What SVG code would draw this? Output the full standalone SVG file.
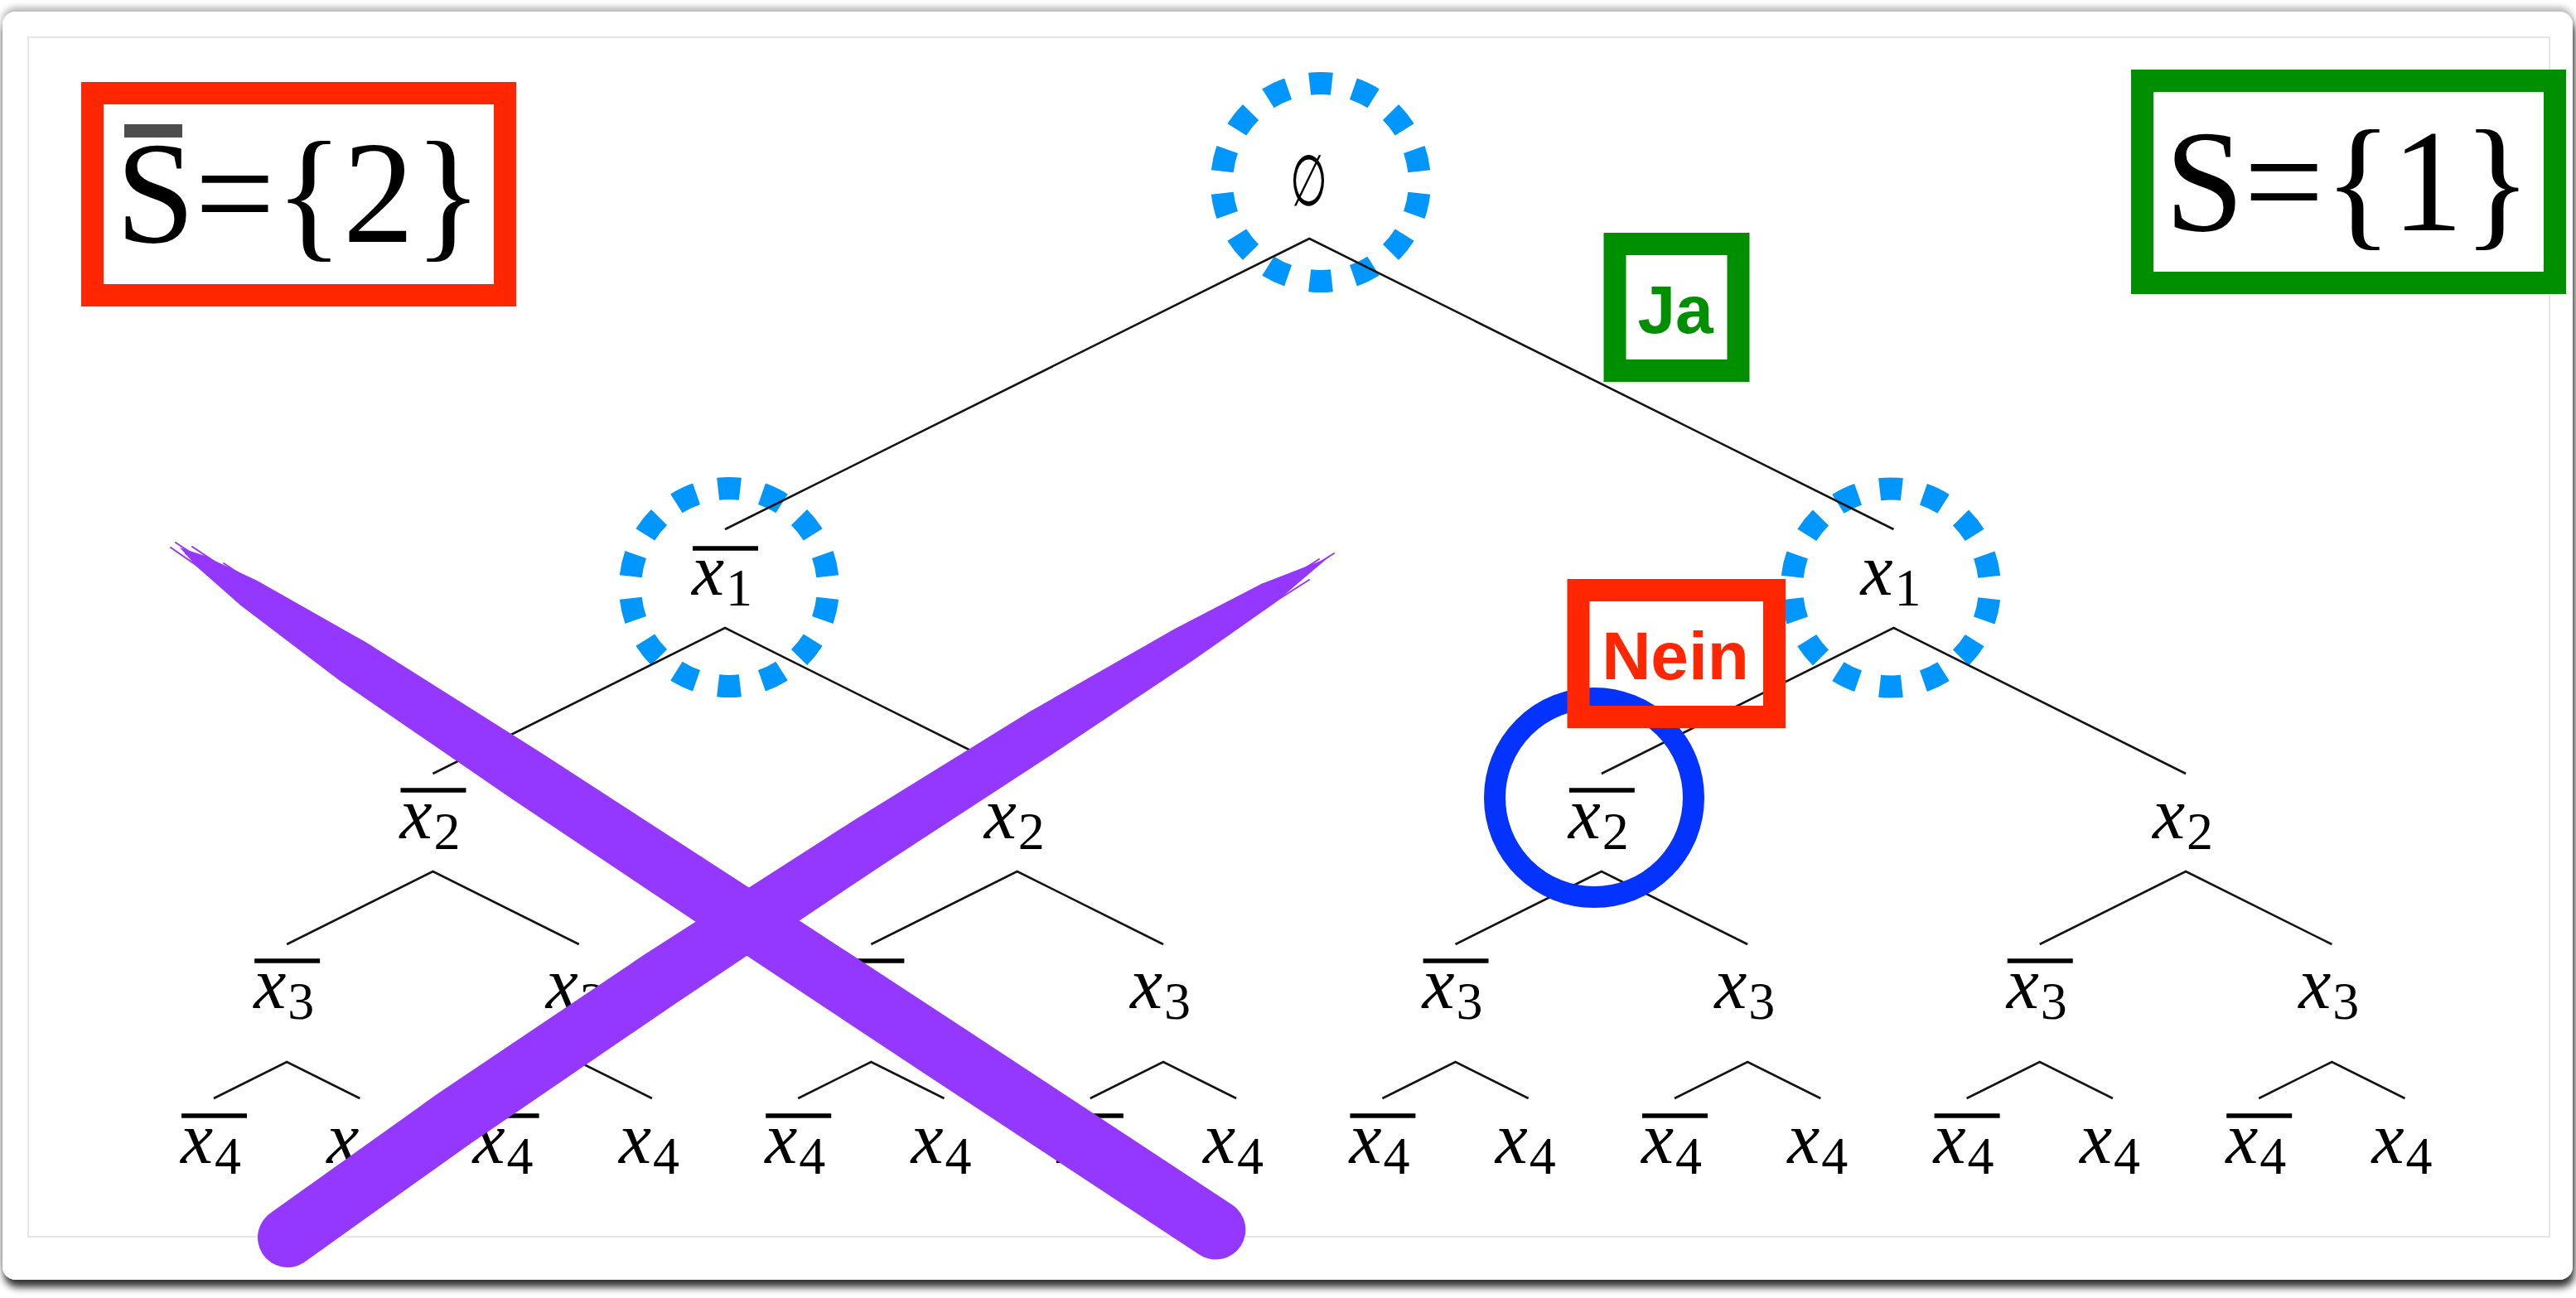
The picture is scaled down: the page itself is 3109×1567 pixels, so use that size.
<svg xmlns="http://www.w3.org/2000/svg" width="3109" height="1567" viewBox="0 0 3109 1567">
<defs>
<style>
.v{font-family:"Liberation Serif","Times New Roman",serif;font-style:italic;font-size:88px;fill:#000}
.s{font-family:"Liberation Serif","Times New Roman",serif;font-size:64px;fill:#000}
.ob{fill:#000}
.big{font-family:"Liberation Serif","Times New Roman",serif;font-size:175px;fill:#000}
.tag{font-family:"Liberation Sans",Arial,sans-serif;font-weight:bold;font-size:82px;text-anchor:middle}
.dash{fill:none;stroke:#0096ff;stroke-width:27;stroke-dasharray:1 1;stroke-dashoffset:1.5}
.edge{fill:none;stroke:#141414;stroke-width:2.6;stroke-linejoin:miter}
.feather{fill:none;stroke:#9437ff;stroke-width:2;stroke-linecap:round}
</style>
<filter id="sh" x="-3%" y="-3%" width="106%" height="108%">
<feGaussianBlur in="SourceAlpha" stdDeviation="5"/>
<feOffset dx="2" dy="9" result="o"/>
<feComponentTransfer in="o" result="o2"><feFuncA type="linear" slope="0.8"/></feComponentTransfer>
<feGaussianBlur in="SourceAlpha" stdDeviation="4" result="t"/>
<feOffset in="t" dy="-5" result="t2"/>
<feComponentTransfer in="t2" result="t3"><feFuncA type="linear" slope="0.3"/></feComponentTransfer>
<feMerge><feMergeNode in="o2"/><feMergeNode in="t3"/><feMergeNode in="SourceGraphic"/></feMerge>
</filter>
</defs>

<rect x="0" y="0" width="3109" height="1567" fill="#ffffff"/>
<rect x="3" y="14" width="3102" height="1531" rx="16" fill="#ffffff" filter="url(#sh)"/>
<rect x="34" y="45" width="3043" height="1448" fill="none" stroke="#e6e6e6" stroke-width="2"/>

<!-- dashed highlight rings -->
<g id="rings">
<circle class="dash" cx="1594" cy="220" r="119.5" pathLength="28"/>
<circle class="dash" cx="880" cy="709" r="119.5" pathLength="28"/>
<circle class="dash" cx="2282" cy="709.5" r="119.5" pathLength="28"/>
</g>

<g id="connectors" class="edge">
<path class="edge" d="M875.05,639 L1580.25,288 L2285.45,639"/>
<path class="edge" d="M522.45,934 L875.05,758 L1227.65,934"/>
<path class="edge" d="M1932.85,934 L2285.45,758 L2638.05,934"/>
<path class="edge" d="M346.15,1140 L522.45,1052 L698.75,1140"/>
<path class="edge" d="M1051.35,1140 L1227.65,1052 L1403.95,1140"/>
<path class="edge" d="M1756.55,1140 L1932.85,1052 L2109.15,1140"/>
<path class="edge" d="M2461.75,1140 L2638.05,1052 L2814.35,1140"/>
<path class="edge" d="M258,1326 L346.15,1282 L434.3,1326"/>
<path class="edge" d="M610.6,1326 L698.75,1282 L786.9,1326"/>
<path class="edge" d="M963.2,1326 L1051.35,1282 L1139.5,1326"/>
<path class="edge" d="M1315.8,1326 L1403.95,1282 L1492.1,1326"/>
<path class="edge" d="M1668.4,1326 L1756.55,1282 L1844.7,1326"/>
<path class="edge" d="M2021,1326 L2109.15,1282 L2197.3,1326"/>
<path class="edge" d="M2373.6,1326 L2461.75,1282 L2549.9,1326"/>
<path class="edge" d="M2726.2,1326 L2814.35,1282 L2902.5,1326"/>
</g>

<!-- nodes -->
<g id="n-root"><text x="0" y="248" transform="translate(1580,0) scale(0.6,1)" font-family="DejaVu Serif,serif" font-size="86" text-anchor="middle">∅</text></g>

<g id="n1-0"><rect class="ob" x="836.05" y="659.25" width="79" height="5.5"/><text class="v" x="835.05" y="718">x</text><text class="s" x="876.05" y="731">1</text></g>
<g id="n1-1"><text class="v" x="2245.45" y="718">x</text><text class="s" x="2286.45" y="731">1</text></g>

<g id="n2-0"><rect class="ob" x="483.45" y="951.25" width="79" height="5.5"/><text class="v" x="482.45" y="1012">x</text><text class="s" x="523.45" y="1025">2</text></g>
<g id="n2-1"><text class="v" x="1187.65" y="1012">x</text><text class="s" x="1228.65" y="1025">2</text></g>
<g id="n2-2"><rect class="ob" x="1893.85" y="951.25" width="79" height="5.5"/><text class="v" x="1892.85" y="1012">x</text><text class="s" x="1933.85" y="1025">2</text></g>
<g id="n2-3"><text class="v" x="2598.05" y="1012">x</text><text class="s" x="2639.05" y="1025">2</text></g>

<g id="n3-0"><rect class="ob" x="307.15" y="1157.25" width="79" height="5.5"/><text class="v" x="306.15" y="1217">x</text><text class="s" x="347.15" y="1230">3</text></g>
<g id="n3-1"><text class="v" x="658.75" y="1217">x</text><text class="s" x="699.75" y="1230">3</text></g>
<g id="n3-2"><rect class="ob" x="1012.35" y="1157.25" width="79" height="5.5"/><text class="v" x="1011.35" y="1217">x</text><text class="s" x="1052.35" y="1230">3</text></g>
<g id="n3-3"><text class="v" x="1363.95" y="1217">x</text><text class="s" x="1404.95" y="1230">3</text></g>
<g id="n3-4"><rect class="ob" x="1717.55" y="1157.25" width="79" height="5.5"/><text class="v" x="1716.55" y="1217">x</text><text class="s" x="1757.55" y="1230">3</text></g>
<g id="n3-5"><text class="v" x="2069.15" y="1217">x</text><text class="s" x="2110.15" y="1230">3</text></g>
<g id="n3-6"><rect class="ob" x="2422.75" y="1157.25" width="79" height="5.5"/><text class="v" x="2421.75" y="1217">x</text><text class="s" x="2462.75" y="1230">3</text></g>
<g id="n3-7"><text class="v" x="2774.35" y="1217">x</text><text class="s" x="2815.35" y="1230">3</text></g>

<g id="n4-0"><rect class="ob" x="219" y="1344.25" width="79" height="5.5"/><text class="v" x="218" y="1404">x</text><text class="s" x="259" y="1417">4</text></g>
<g id="n4-1"><text class="v" x="394.3" y="1404">x</text><text class="s" x="435.3" y="1417">4</text></g>
<g id="n4-2"><rect class="ob" x="571.6" y="1344.25" width="79" height="5.5"/><text class="v" x="570.6" y="1404">x</text><text class="s" x="611.6" y="1417">4</text></g>
<g id="n4-3"><text class="v" x="746.9" y="1404">x</text><text class="s" x="787.9" y="1417">4</text></g>
<g id="n4-4"><rect class="ob" x="924.2" y="1344.25" width="79" height="5.5"/><text class="v" x="923.2" y="1404">x</text><text class="s" x="964.2" y="1417">4</text></g>
<g id="n4-5"><text class="v" x="1099.5" y="1404">x</text><text class="s" x="1140.5" y="1417">4</text></g>
<g id="n4-6"><rect class="ob" x="1276.8" y="1344.25" width="79" height="5.5"/><text class="v" x="1275.8" y="1404">x</text><text class="s" x="1316.8" y="1417">4</text></g>
<g id="n4-7"><text class="v" x="1452.1" y="1404">x</text><text class="s" x="1493.1" y="1417">4</text></g>
<g id="n4-8"><rect class="ob" x="1629.4" y="1344.25" width="79" height="5.5"/><text class="v" x="1628.4" y="1404">x</text><text class="s" x="1669.4" y="1417">4</text></g>
<g id="n4-9"><text class="v" x="1804.7" y="1404">x</text><text class="s" x="1845.7" y="1417">4</text></g>
<g id="n4-10"><rect class="ob" x="1982" y="1344.25" width="79" height="5.5"/><text class="v" x="1981" y="1404">x</text><text class="s" x="2022" y="1417">4</text></g>
<g id="n4-11"><text class="v" x="2157.3" y="1404">x</text><text class="s" x="2198.3" y="1417">4</text></g>
<g id="n4-12"><rect class="ob" x="2334.6" y="1344.25" width="79" height="5.5"/><text class="v" x="2333.6" y="1404">x</text><text class="s" x="2374.6" y="1417">4</text></g>
<g id="n4-13"><text class="v" x="2509.9" y="1404">x</text><text class="s" x="2550.9" y="1417">4</text></g>
<g id="n4-14"><rect class="ob" x="2687.2" y="1344.25" width="79" height="5.5"/><text class="v" x="2686.2" y="1404">x</text><text class="s" x="2727.2" y="1417">4</text></g>
<g id="n4-15"><text class="v" x="2862.5" y="1404">x</text><text class="s" x="2903.5" y="1417">4</text></g>

<!-- solid blue ring around right x̄2 -->
<g id="ring-x2"><circle cx="1924" cy="963" r="120" fill="none" stroke="#0433ff" stroke-width="26"/></g>

<!-- annotation boxes -->
<g id="box-sbar">
<rect x="111.5" y="112.5" width="498" height="244" fill="none" stroke="#ff2600" stroke-width="27"/>
<rect x="150" y="150" width="70" height="16" fill="#4d4d4d"/>
<text class="big" x="140" y="292" textLength="442" lengthAdjust="spacingAndGlyphs">S={2}</text>
</g>
<g id="box-s">
<rect x="2585.5" y="97.5" width="498" height="244" fill="none" stroke="#008f00" stroke-width="27"/>
<text class="big" x="2613" y="278" textLength="442" lengthAdjust="spacingAndGlyphs">S={1}</text>
</g>
<g id="box-ja">
<rect x="1949" y="294.5" width="149" height="153" fill="none" stroke="#008f00" stroke-width="27"/>
<text class="tag" x="2022" y="402" fill="#008f00">Ja</text>
</g>
<g id="box-nein">
<rect x="1905" y="712.5" width="236.5" height="153" fill="none" stroke="#ff2600" stroke-width="27"/>
<text class="tag" x="2022" y="819.5" fill="#ff2600">Nein</text>
</g>

<!-- purple cross-out -->
<g id="cross" fill="#9437ff">
<path d="M217,661 L246.4,670.8 L310.4,700.97 L441.2,775.12 L652.65,908.44 L904.25,1071.77 L1155.3,1235.94 L1487.6,1454.84 A36,36 0 0 1 1448,1514.96 L1115.7,1296.06 L865.75,1130.23 L616.35,963.56 L410.4,821.88 L290.6,731.03 L237.6,684.2 Z"/>
<path d="M327.34,1463.83 L528.34,1320.33 L777.19,1152.77 L1029.83,990.78 L1242.57,859.2 L1416.59,759.86 L1523.56,704.37 L1602,674 L1538.84,727.83 L1440.61,796.74 L1274.23,907.8 L1064.77,1044.42 L815.41,1211.43 L567.66,1380.67 L366.66,1524.17 A36,36 0 0 1 327.34,1463.83 Z"/>
<path class="feather" d="M212,655 L390,774 M224,668 L360,760 M232,660 L335,729 M206,661 L300,726 M246,676 L450,812 M270,680 L420,780"/>
<path class="feather" d="M1500,738 L1604,672 M1485,744 L1592,675 M1515,728 L1610,668 M1452,782 L1560,708 M1470,770 L1580,700 M1440,770 L1520,718"/>
</g>
</svg>
